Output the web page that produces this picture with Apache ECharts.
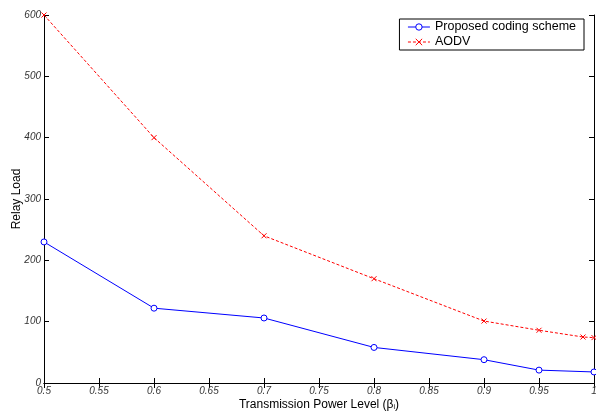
<!DOCTYPE html>
<html><head><meta charset="utf-8">
<script src="https://cdn.jsdelivr.net/npm/echarts@6/dist/echarts.min.js"></script>
<style>html,body{margin:0;padding:0;background:#fff}#c{width:596px;height:412px}</style>
</head><body><div id="c"></div>
<script>
const xProposed = [0.5, 0.6, 0.7, 0.8, 0.9, 0.95, 1.0];
const yProposed = [230, 122, 106, 58, 38, 21, 18];
const xAODV = [0.5, 0.6, 0.7, 0.8, 0.9, 0.95, 0.99, 1.0];
const yAODV = [600, 400, 240, 170, 101, 86, 75, 74];
const seriesNames = ['Proposed coding scheme', 'AODV'];
const yTitle = 'Relay Load';

const chart = echarts.init(document.getElementById('c'), null, {renderer: 'canvas'});
const tickLabel = {fontFamily: 'Liberation Sans', fontStyle: 'italic', fontSize: 10, color: '#333'};
const crossPath = 'path://M0,0L10,10M10,0L0,10';
chart.setOption({
  animation: false,
  backgroundColor: '#fff',
  grid: {left: 44, right: 2, top: 15, bottom: 29, containLabel: false, outerBoundsMode: 'none'},
  legend: {
    right: 12, top: 19, orient: 'vertical', itemGap: 1,
    itemWidth: 22, itemHeight: 8,
    borderColor: '#000', borderWidth: 1, backgroundColor: '#fff', borderRadius: 0,
    padding: [1, 8, 1, 8],
    itemStyle: {borderWidth: 1},
    lineStyle: {width: 1},
    textStyle: {fontFamily: 'Liberation Sans', fontSize: 12.5, color: '#000', lineHeight: 14},
    data: seriesNames
  },
  xAxis: [{
    type: 'value', min: 0.5, max: 1, interval: 0.05,
    name: '{t|Transmission Power Level (β}{s|i}{t|)}', nameLocation: 'middle', nameGap: 15,
    nameMoveOverlap: false,
    nameTextStyle: {verticalAlign: 'top', rich: {t: {fontFamily: 'Liberation Sans', fontSize: 12, color: '#000'},
      s: {fontFamily: 'Liberation Sans', fontSize: 7, color: '#000', verticalAlign: 'bottom', padding: [6, 0, 0, 0]}}},
    axisLine: {lineStyle: {color: '#000', width: 1}},
    axisTick: {inside: true, length: 5, lineStyle: {color: '#000'}},
    axisLabel: Object.assign({margin: 3, formatter: v => String(+v.toFixed(2))}, tickLabel),
    splitLine: {show: false}
  }, {
    type: 'value', min: 0.5, max: 1, interval: 0.05, position: 'top',
    axisLine: {lineStyle: {color: '#000'}},
    axisTick: {inside: true, length: 5, lineStyle: {color: '#000'}},
    axisLabel: {show: false}, splitLine: {show: false}
  }],
  yAxis: [{
    type: 'value', min: 0, max: 600, interval: 100,
    name: yTitle, nameLocation: 'middle', nameGap: 21,
    nameMoveOverlap: false,
    nameTextStyle: {fontFamily: 'Liberation Sans', fontSize: 12, color: '#000'},
    axisLine: {lineStyle: {color: '#000', width: 1}},
    axisTick: {inside: true, length: 5, lineStyle: {color: '#000'}},
    axisLabel: Object.assign({margin: 3}, tickLabel),
    splitLine: {show: false}
  }, {
    type: 'value', min: 0, max: 600, interval: 100, position: 'right',
    axisLine: {lineStyle: {color: '#000'}},
    axisTick: {inside: true, length: 5, lineStyle: {color: '#000'}},
    axisLabel: {show: false}, splitLine: {show: false}
  }],
  series: [{
    name: seriesNames[0], type: 'line',
    data: xProposed.map((x, i) => [x, yProposed[i]]),
    symbol: 'circle', symbolSize: 6,
    lineStyle: {color: '#0000ff', width: 1},
    itemStyle: {color: '#ffffff', borderColor: '#0000ff', borderWidth: 1},
    clip: false
  }, {
    name: seriesNames[1], type: 'line',
    data: xAODV.map((x, i) => [x, yAODV[i]]),
    symbol: crossPath, symbolSize: 5,
    lineStyle: {color: '#ff0000', width: 1, type: [3, 2]},
    itemStyle: {color: '#ff0000', borderColor: '#ff0000', borderWidth: 1},
    clip: false
  }]
});
</script>
</body></html>
